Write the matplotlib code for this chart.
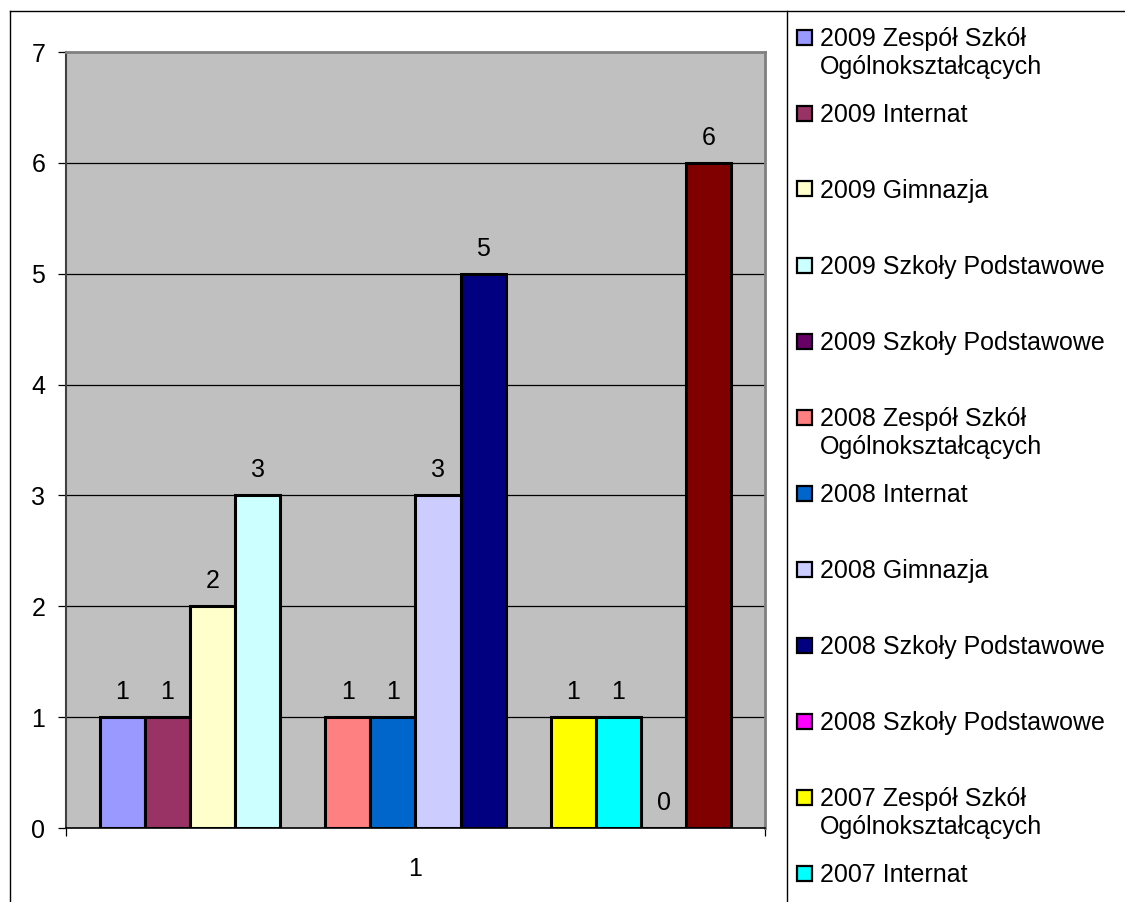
import numpy as np
import matplotlib
matplotlib.use("Agg")
import matplotlib.pyplot as plt
from matplotlib.patches import Rectangle
from matplotlib.lines import Line2D

plt.rcParams['font.family'] = ['Liberation Sans', 'DejaVu Sans']

# Series (one category "1"), values and colours
series_labels = [
    "2009 Zespół Szkół\nOgólnokształcących",
    "2009 Internat",
    "2009 Gimnazja",
    "2009 Szkoły Podstawowe",
    "2009 Szkoły Podstawowe",
    "2008 Zespół Szkół\nOgólnokształcących",
    "2008 Internat",
    "2008 Gimnazja",
    "2008 Szkoły Podstawowe",
    "2008 Szkoły Podstawowe",
    "2007 Zespół Szkół\nOgólnokształcących",
    "2007 Internat",
    "2007 Gimnazja",
    "2007 Szkoły Podstawowe",
]
series_values = [1, 1, 2, 3, np.nan, 1, 1, 3, 5, np.nan, 1, 1, 0, 6]
series_colors = ["#9999FF", "#993366", "#FFFFCC", "#CCFFFF", "#660066",
                 "#FF8080", "#0066CC", "#CCCCFF", "#000080", "#FF00FF",
                 "#FFFF00", "#00FFFF", "#800080", "#800000"]
category_labels = ["1"]
y_ticks = [0, 1, 2, 3, 4, 5, 6, 7]

W, H, DPI = 1125, 902, 100
fig = plt.figure(figsize=(W / DPI, H / DPI), dpi=DPI)
FS = 18


def px_x(x):
    return x / W


def px_y(y):
    return 1 - y / H


# Plot area
left, right, top, bottom = 66, 765, 52, 828
ax = fig.add_axes([px_x(left), px_y(bottom), (right - left) / W, (bottom - top) / H])
ax.set_facecolor("#C0C0C0")

n = len(series_values)
positions = np.arange(n)
ax.set_xlim(-1.25, n - 1 + 1.25)
ax.set_ylim(0, 7)

for yv in y_ticks[1:-1]:
    ax.axhline(yv, color="black", lw=0.9, zorder=1)

for pos, val, col in zip(positions, series_values, series_colors):
    if np.isnan(val):
        continue
    ax.bar(pos, val, width=1.0, color=col, edgecolor="black", linewidth=2.2, zorder=2)
    ax.annotate(f"{val:g}", (pos, val), xytext=(0, 13), textcoords="offset points",
                ha="center", va="baseline", fontsize=FS, zorder=3)

ax.set_yticks(y_ticks)
ax.set_yticklabels([str(t) for t in y_ticks], fontsize=FS)
ax.tick_params(axis="y", direction="out", length=6, width=0.9, pad=9, color="black")

center = (n - 1) / 2
ax.set_xticks([center])
ax.set_xticklabels(category_labels, fontsize=FS)
ax.tick_params(axis="x", which="major", length=0, pad=21)
ax.set_xticks([-1.25, n - 1 + 1.25], minor=True)
ax.tick_params(axis="x", which="minor", direction="out", length=6, width=0.9, color="black")

ax.spines["top"].set_color("#808080")
ax.spines["top"].set_linewidth(2)
ax.spines["right"].set_color("#808080")
ax.spines["right"].set_linewidth(2)
ax.spines["left"].set_color("#404040")
ax.spines["left"].set_linewidth(1.5)
ax.spines["bottom"].set_color("black")
ax.spines["bottom"].set_linewidth(1.2)

# Chart frame and legend separator
fig.add_artist(Line2D([px_x(10), px_x(W)], [px_y(11), px_y(11)], color="black", lw=1.0))
fig.add_artist(Line2D([px_x(10), px_x(10)], [px_y(11), px_y(H)], color="black", lw=1.0))
fig.add_artist(Line2D([px_x(787), px_x(787)], [px_y(11), px_y(H)], color="black", lw=1.0))

# Legend entries (the list runs past the bottom of the chart area)
first_line_y = 37
entry_step = 76.0
line_step = 28
for i, (lab, col) in enumerate(zip(series_labels, series_colors)):
    yc = first_line_y + entry_step * i
    if yc + 12 > H:
        break
    fig.add_artist(Rectangle((px_x(797), px_y(yc + 7.5)), 15 / W, 15 / H,
                             facecolor=col, edgecolor="black", lw=1.6,
                             transform=fig.transFigure))
    for j, line in enumerate(lab.split("\n")):
        fig.text(px_x(820), px_y(yc + j * line_step + 9), line, fontsize=FS,
                 ha="left", va="baseline")

fig.savefig("out.png", dpi=DPI)
